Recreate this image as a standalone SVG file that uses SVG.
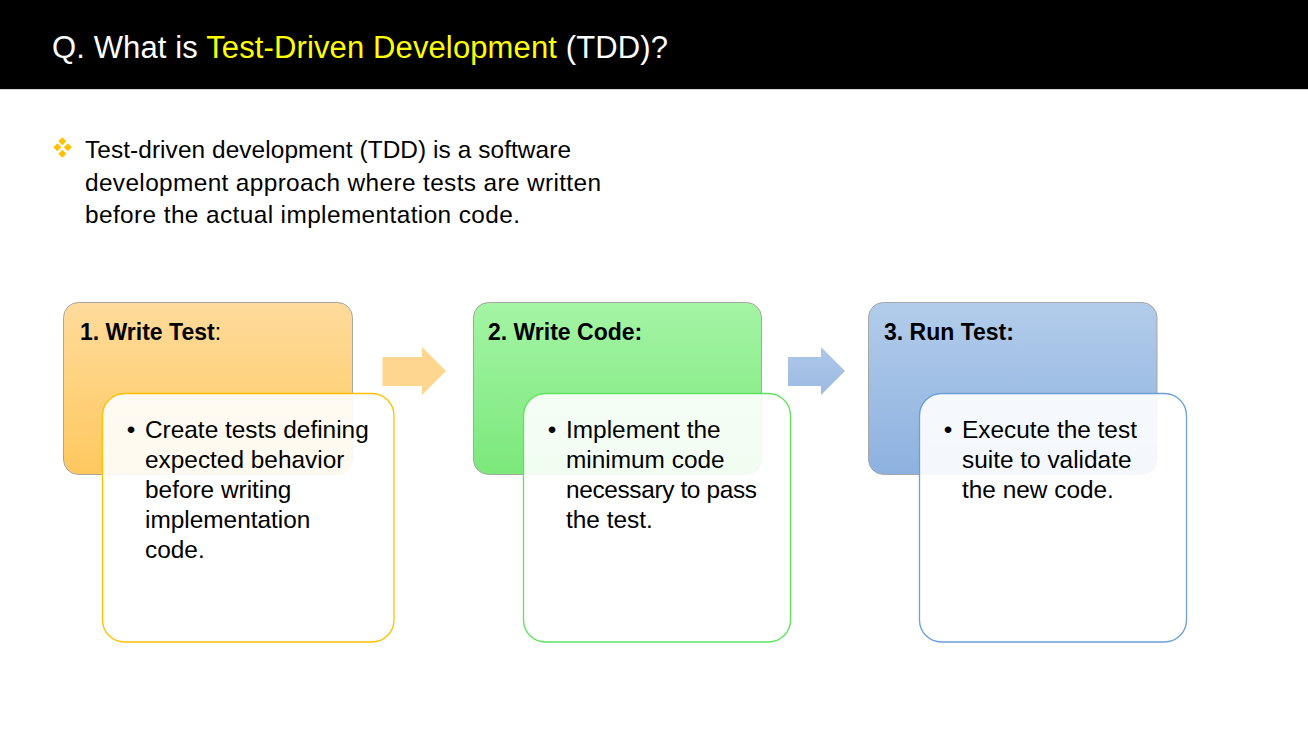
<svg xmlns="http://www.w3.org/2000/svg" width="1308" height="751" viewBox="0 0 1308 751">
  <defs>
    <linearGradient id="gOrange" x1="0" y1="0" x2="0" y2="1">
      <stop offset="0" stop-color="#FEDB9C"/>
      <stop offset="1" stop-color="#FEC85E"/>
    </linearGradient>
    <linearGradient id="gGreen" x1="0" y1="0" x2="0" y2="1">
      <stop offset="0" stop-color="#A4F4A4"/>
      <stop offset="1" stop-color="#7BE87B"/>
    </linearGradient>
    <linearGradient id="gBlue" x1="0" y1="0" x2="0" y2="1">
      <stop offset="0" stop-color="#B2CCEA"/>
      <stop offset="1" stop-color="#8DB1DF"/>
    </linearGradient>
    <linearGradient id="gArrowBlue" x1="0" y1="0" x2="0" y2="1">
      <stop offset="0" stop-color="#ADC7E8"/>
      <stop offset="1" stop-color="#9DBAE3"/>
    </linearGradient>
  </defs>
  <style>
    text { font-family: "Liberation Sans", Arial, sans-serif; fill: #000; }
    .title { font-size: 31px; fill: #FFFFFF; }
    .hl { fill: #FFFF00; }
    .body { font-size: 24.4px; }
    .head { font-size: 23px; font-weight: bold; }
    .plain { font-weight: normal; }
    .item { font-size: 24.4px; }
    .dot { font-size: 24.4px; text-anchor: middle; }
    .card { stroke: #A6A6A6; stroke-width: 1; }
    .panel { fill: #FFFFFF; fill-opacity: 0.9; stroke-width: 1.3; }
  </style>

  <rect width="1308" height="751" fill="#FFFFFF"/>

  <!-- title bar -->
  <g id="title-bar">
    <rect x="0" y="0" width="1308" height="89" fill="#000000"/>
    <line x1="0" y1="89.5" x2="1308" y2="89.5" stroke="#DADADA" stroke-width="1"/>
    <text class="title" x="52" y="58" textLength="616" lengthAdjust="spacing">Q. What is <tspan class="hl">Test-Driven Development</tspan> (TDD)?</text>
  </g>

  <!-- intro bullet -->
  <g id="intro">
    <g fill="#FFC000">
      <path d="M62.3,137.3 l4,4 l-4,4 l-4,-4 z"/>
      <path d="M57.3,143.3 l4,4 l-4,4 l-4,-4 z"/>
      <path d="M67.8,143.3 l4,4 l-4,4 l-4,-4 z"/>
      <path d="M62.3,149.8 l4,4 l-4,4 l-4,-4 z"/>
    </g>
    <text class="body" x="85" y="158" textLength="486" lengthAdjust="spacing">Test-driven development (TDD) is a software</text>
    <text class="body" x="85" y="191" textLength="516" lengthAdjust="spacing">development approach where tests are written</text>
    <text class="body" x="85" y="223" textLength="435" lengthAdjust="spacing">before the actual implementation code.</text>
  </g>

  <!-- flow arrows -->
  <g id="connectors">
    <path d="M382.5,357 H422 V347 L446,371 L422,395 V386 H382.5 Z" fill="#FFD68F"/>
    <path d="M788,357 H821 V347 L845,371 L821,395 V386 H788 Z" fill="url(#gArrowBlue)"/>
  </g>

  <!-- step 1 -->
  <g id="step-write-test">
    <rect class="card" x="63.5" y="302.5" width="289" height="172" rx="15" fill="url(#gOrange)"/>
    <text class="head" x="80" y="340">1. Write Test<tspan class="plain">:</tspan></text>
    <rect class="panel" x="102.5" y="393.5" width="291.5" height="248.5" rx="22" stroke="#FFC000"/>
    <text class="dot" x="131" y="438">•</text>
    <text class="item" x="145" y="438">Create tests defining</text>
    <text class="item" x="145" y="468">expected behavior</text>
    <text class="item" x="145" y="498">before writing</text>
    <text class="item" x="145" y="528">implementation</text>
    <text class="item" x="145" y="558">code.</text>
  </g>

  <!-- step 2 -->
  <g id="step-write-code">
    <rect class="card" x="473.5" y="302.5" width="288" height="172" rx="15" fill="url(#gGreen)"/>
    <text class="head" x="488" y="340">2. Write Code:</text>
    <rect class="panel" x="523.5" y="393.5" width="267" height="248.5" rx="22" stroke="#5EE35E"/>
    <text class="dot" x="552" y="438">•</text>
    <text class="item" x="566" y="438">Implement the</text>
    <text class="item" x="566" y="468">minimum code</text>
    <text class="item" x="566" y="498" textLength="191" lengthAdjust="spacing">necessary to pass</text>
    <text class="item" x="566" y="528">the test.</text>
  </g>

  <!-- step 3 -->
  <g id="step-run-test">
    <rect class="card" x="868.5" y="302.5" width="288.5" height="172" rx="15" fill="url(#gBlue)"/>
    <text class="head" x="884" y="340">3. Run Test:</text>
    <rect class="panel" x="919.5" y="393.5" width="267" height="248.5" rx="22" stroke="#6A9FD8"/>
    <text class="dot" x="948" y="438">•</text>
    <text class="item" x="962" y="438">Execute the test</text>
    <text class="item" x="962" y="468">suite to validate</text>
    <text class="item" x="962" y="498">the new code.</text>
  </g>
</svg>
